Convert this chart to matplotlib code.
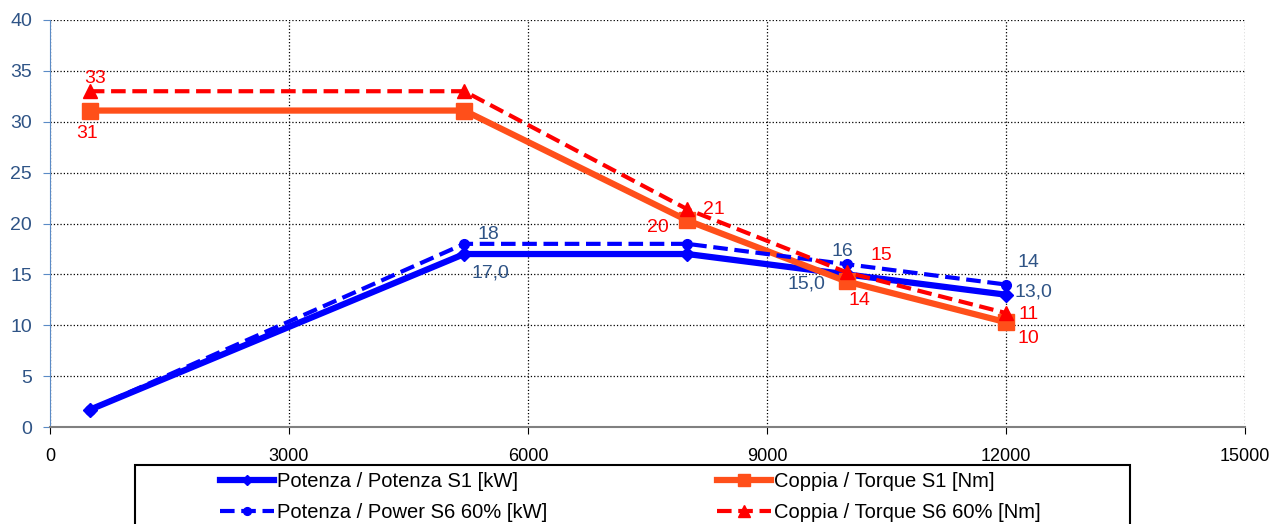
import matplotlib.pyplot as plt
from matplotlib.patches import Rectangle
from matplotlib.ticker import MultipleLocator

plt.rcParams['font.family'] = ['Liberation Sans', 'DejaVu Sans']

# Data
speed = [500, 5200, 8000, 10000, 12000]
power_s1 = [1.7, 17.0, 17.0, 15.0, 13.0]
power_s6 = [1.7, 18.0, 18.0, 16.0, 14.0]
torque_s1 = [31.1, 31.1, 20.3, 14.3, 10.3]
torque_s6 = [33.0, 33.0, 21.4, 15.2, 11.2]

label_blue = '#2F5486'
label_red = '#FF0000'

W, H = 1280, 524
fig = plt.figure(figsize=(W / 100, H / 100), dpi=100)
ax = fig.add_axes([50 / W, 1 - 427 / H, 1195 / W, 407 / H])

dash = (0, (3.5, 1.6))
l1, = ax.plot(speed, power_s1, color='#0000FF', lw=4.5, marker='D', ms=7,
              label='Potenza / Potenza S1 [kW]', zorder=4)
l2, = ax.plot(speed, torque_s1, color='#FF4F1A', lw=4.5, marker='s', ms=11,
              label='Coppia / Torque S1 [Nm]', zorder=4)
l3, = ax.plot(speed, power_s6, color='#0000FF', lw=3, ls=dash, marker='o', ms=7,
              label='Potenza / Power S6 60% [kW]', zorder=5)
l4, = ax.plot(speed, torque_s6, color='#FF0000', lw=3, ls=dash, marker='^', ms=10,
              label='Coppia / Torque S6 60% [Nm]', zorder=5)

fs = 14
def lab(x, y, t, c, dx, dy):
    ax.annotate(t, (x, y), xytext=(dx, dy), textcoords='offset points',
                color=c, fontsize=fs, ha='center', va='center')

# torque S1
lab(speed[0], torque_s1[0], '31', label_red, -2, -16.5)
lab(speed[2], torque_s1[2], '20', label_red, -21, -5)
lab(speed[3], torque_s1[3], '14', label_red, 9, -14)
lab(speed[4], torque_s1[4], '10', label_red, 16, -12)
# torque S6
lab(speed[0], torque_s6[0], '33', label_red, 4, 9)
lab(speed[2], torque_s6[2], '21', label_red, 19, 0)
lab(speed[3], torque_s6[3], '15', label_red, 25, 12)
lab(speed[4], torque_s6[4], '11', label_red, 16, -1)
# power S1
lab(speed[1], power_s1[1], '17,0', label_blue, 19, -14)
lab(speed[3], power_s1[3], '15,0', label_blue, -29, -7)
lab(speed[4], power_s1[4], '13,0', label_blue, 20, 2)
# power S6
lab(speed[1], power_s6[1], '18', label_blue, 17, 7)
lab(speed[3], power_s6[3], '16', label_blue, -3, 9)
lab(speed[4], power_s6[4], '14', label_blue, 16, 16)

ax.set_xlim(0, 15000)
ax.set_ylim(0, 40)
ax.xaxis.set_major_locator(MultipleLocator(3000))
ax.yaxis.set_major_locator(MultipleLocator(5))
ax.grid(True, color='black', ls=':', lw=0.9)
ax.xaxis.get_gridlines()[-1].set_visible(False)
ax.set_axisbelow(True)

for s in ['top', 'right']:
    ax.spines[s].set_visible(False)
ax.spines['left'].set_color('#5B8BC6')
ax.spines['bottom'].set_color('#808080')
ax.spines['bottom'].set_linewidth(1.5)
ax.tick_params(axis='y', colors='#5B8BC6', labelcolor=label_blue, labelsize=14,
               length=5, pad=8)
ax.tick_params(axis='x', colors='black', labelsize=13, length=5, direction='out', pad=10)

# legend box, cut by the bottom of the picture as in the source
fig.add_artist(Rectangle((135 / W, 1 - 545 / H), (1130 - 135) / W, 80 / H,
                         transform=fig.transFigure, fill=False, ec='black', lw=1.5))
fig.legend([l1, l3, l2, l4], [l.get_label() for l in [l1, l3, l2, l4]],
           loc='upper left', bbox_to_anchor=(220 / W, 1 - 472 / H),
           ncol=2, fontsize=14.5, frameon=False, borderaxespad=0, borderpad=0,
           handlelength=2.7, handletextpad=0.15, columnspacing=8.4, labelspacing=0.6,
           markerscale=0.8)

fig.savefig('out.png', dpi=100)
